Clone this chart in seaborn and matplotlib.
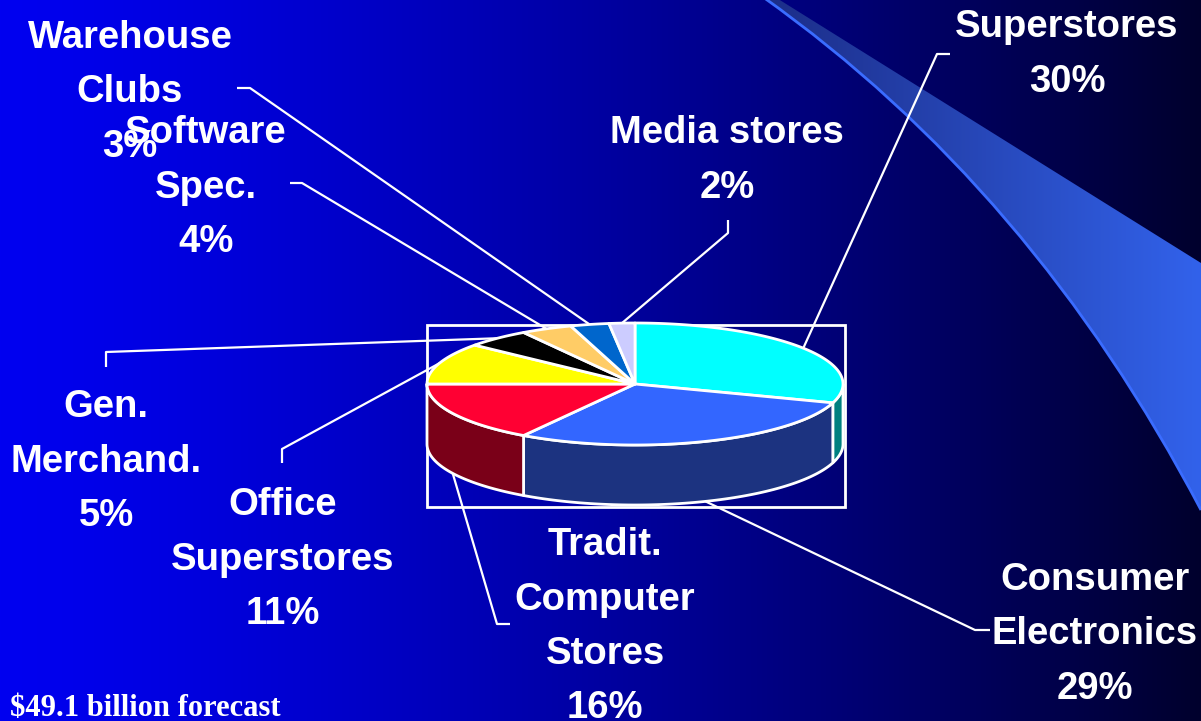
import numpy as np
import seaborn as sns
import matplotlib
matplotlib.use("Agg")
import matplotlib.pyplot as plt
from matplotlib.patches import Polygon, PathPatch, Rectangle
from matplotlib.path import Path

# data: retail channel shares, clockwise from 12 o'clock
channels = ["Superstores", "Consumer\nElectronics", "Tradit.\nComputer\nStores",
            "Office\nSuperstores", "Gen.\nMerchand.", "Software\nSpec.",
            "Warehouse\nClubs", "Media stores"]
shares = [30, 29, 16, 11, 5, 4, 3, 2]
top_colors = ["#00ffff", "#3366ff", "#ff0033", "#ffff00",
              "#000000", "#ffcc66", "#0066cc", "#ccccff"]
side_colors = ["#008080", "#1c3380", "#7a0018", "#808000",
               "#000000", "#806633", "#003366", "#666680"]
forecast_note = "$49.1 billion forecast"

# layout (pixel space): label centre x, first baseline y, leader elbow, leader end
label_pos = [(1067, 37), (1095, 590), (605, 555), (283, 515),
             (106, 417), (206, 143), (130, 48), (727, 143)]
leader_elbow = [(937, 54), (975, 630), (497, 624), (282, 449),
                (106, 352), (302, 183), (250, 88), (728, 233)]
leader_end = [(950, 54), (990, 630), (510, 624), (282, 463),
              (106, 367), (290, 183), (237, 88), (728, 220)]

W, H = 1201, 721
cx, cy, rx, ry, depth = 635, 384, 208, 61, 60

sns.set_theme(style="white")
plt.rcParams["font.family"] = ["Liberation Sans", "DejaVu Sans"]
palette = sns.color_palette(top_colors)

fig = plt.figure(figsize=(W / 100, H / 100), dpi=100)
ax = fig.add_axes([0, 0, 1, 1])
ax.set_xlim(0, W)
ax.set_ylim(H, 0)
ax.axis("off")

# background gradient
xs = np.linspace(0, 1, 400)
b = 240 - 195 * xs ** 1.3
bg = np.zeros((2, len(xs), 3))
bg[..., 2] = b / 255
ax.imshow(bg, extent=[0, W, H, 0], aspect="auto", zorder=0, interpolation="bilinear")

# swoosh band
verts = [(763, -3), (1032, 188), (1201, 510), (1201, 263), (775, -3), (763, -3)]
codes = [Path.MOVETO, Path.CURVE3, Path.CURVE3, Path.LINETO, Path.LINETO, Path.CLOSEPOLY]
band = PathPatch(Path(verts, codes), facecolor="none", edgecolor="none", zorder=1)
ax.add_patch(band)
t = np.linspace(0, 1, 300)
sw = np.zeros((2, len(t), 3))
sw[..., 0] = (28 + 22 * t) / 255
sw[..., 1] = (45 + 53 * t) / 255
sw[..., 2] = (135 + 100 * t) / 255
img = ax.imshow(sw, extent=[763, W, H, 0], aspect="auto", zorder=1, interpolation="bilinear")
img.set_clip_path(band)
edge = Path(verts[:3], codes[:3])
ax.add_patch(PathPatch(edge, facecolor="none", edgecolor="#3a6cff", lw=2, zorder=1.5))
ax.set_xlim(0, W)
ax.set_ylim(H, 0)

# frame round the pie
ax.add_patch(Rectangle((427, 325), 418, 182, fill=False, edgecolor="white", lw=2, zorder=2))


def rim(theta, drop=0.0):
    return cx + rx * np.sin(theta), cy - ry * np.cos(theta) + drop


bounds = np.concatenate([[0], np.cumsum(shares)]) / sum(shares) * 2 * np.pi

# side walls (front half only)
for i in range(len(shares)):
    lo = max(bounds[i], np.pi / 2)
    hi = min(bounds[i + 1], 3 * np.pi / 2)
    if hi <= lo:
        continue
    th = np.linspace(lo, hi, 80)
    tx, ty = rim(th)
    bx, by = rim(th[::-1], depth)
    pts = np.column_stack([np.concatenate([tx, bx]), np.concatenate([ty, by])])
    ax.add_patch(Polygon(pts, closed=True, facecolor=side_colors[i], edgecolor="white",
                         lw=2, joinstyle="round", zorder=4))

# top wedges
for i in range(len(shares)):
    th = np.linspace(bounds[i], bounds[i + 1], 120)
    tx, ty = rim(th)
    pts = np.column_stack([np.concatenate([[cx], tx]), np.concatenate([[cy], ty])])
    ax.add_patch(Polygon(pts, closed=True, facecolor=palette[i], edgecolor="white",
                         lw=2, joinstyle="round", zorder=5))

# leader lines and labels
for i, name in enumerate(channels):
    mid = (bounds[i] + bounds[i + 1]) / 2
    front = np.pi / 2 < mid < 3 * np.pi / 2
    ax_, ay_ = rim(mid, depth if front else 0)
    ex, ey = leader_elbow[i]
    fx, fy = leader_end[i]
    ax.plot([ax_, ex, fx], [ay_, ey, fy], color="white", lw=1.6, zorder=3,
            solid_capstyle="butt")
    lines = name.split("\n") + ["{}%".format(shares[i])]
    x0, y0 = label_pos[i]
    for k, line in enumerate(lines):
        ax.text(x0, y0 + k * 54.5, line, ha="center", va="baseline", color="white",
                fontsize=27.5, fontweight="bold", zorder=6)

ax.text(10, 716, forecast_note, ha="left", va="baseline", color="white", fontsize=22,
        fontweight="bold", family=["Liberation Serif", "DejaVu Serif"], zorder=6)

fig.savefig("out.png", dpi=100)
